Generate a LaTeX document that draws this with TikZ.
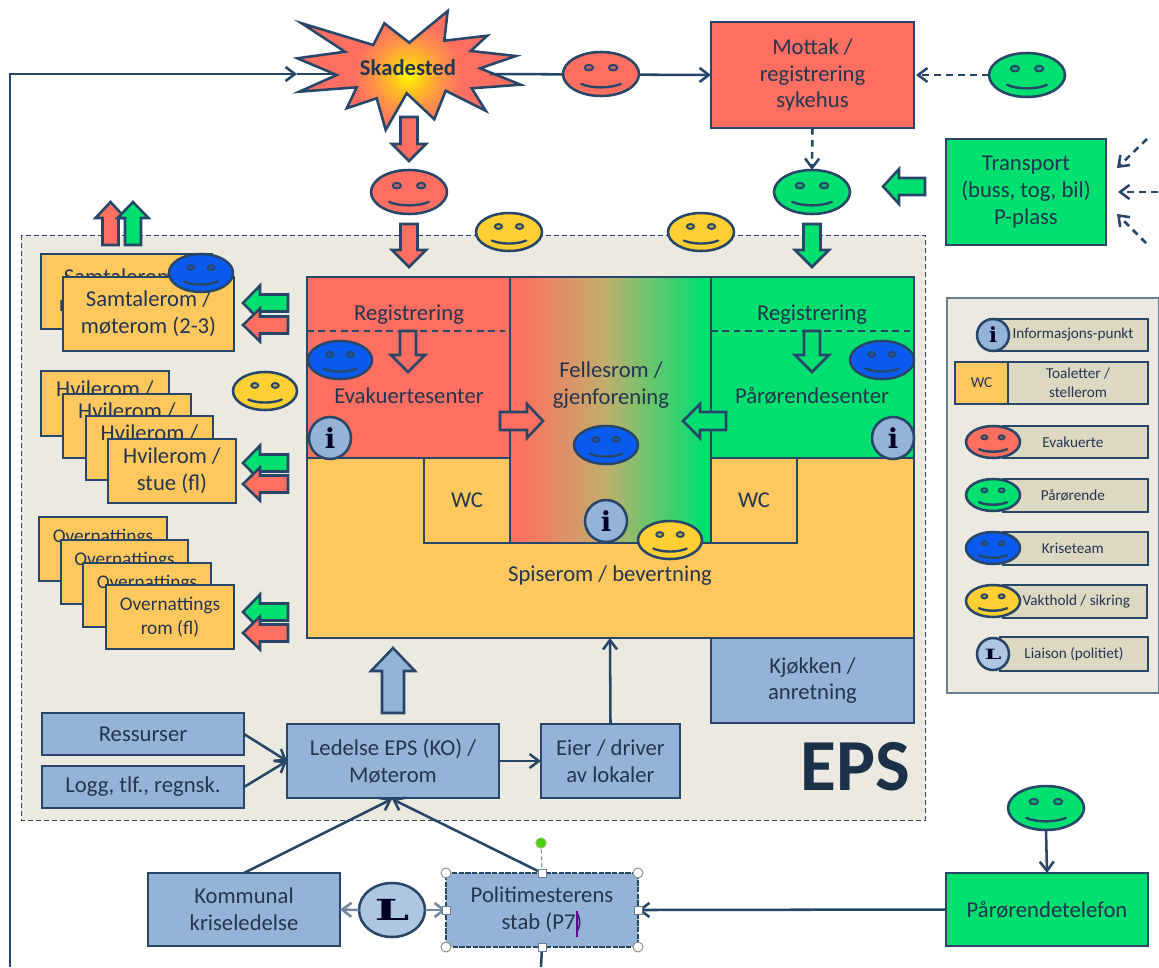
\documentclass[tikz,border=0pt]{standalone}
\usepackage{fontspec}
\setmainfont{Carlito}
\newfontfamily\slabfont{DejaVu Serif}
\usetikzlibrary{arrows.meta,shapes.geometric}
\definecolor{ln}{HTML}{274668}
\definecolor{txt}{HTML}{243550}
\definecolor{pan}{HTML}{ECEAE0}
\definecolor{bar}{HTML}{DDD8C2}
\definecolor{cred}{HTML}{FF6F61}
\definecolor{cgreen}{HTML}{00E070}
\definecolor{corange}{HTML}{FFC85F}
\definecolor{cblue}{HTML}{95B3D7}
\definecolor{cbright}{HTML}{0A5CF0}
\definecolor{cyellow}{HTML}{FFCF33}
\definecolor{cmid}{HTML}{C0AE6C}
\definecolor{burstb}{HTML}{FFC020}
\definecolor{burstc}{HTML}{FF9448}
\pgfdeclarehorizontalshading{fellesshade}{100bp}{color(0bp)=(cred); color(27bp)=(cred); color(49bp)=(cmid); color(73bp)=(cgreen); color(100bp)=(cgreen)}
\pgfdeclareradialshading{burstshade}{\pgfpoint{0bp}{0bp}}{color(0bp)=(yellow); color(8bp)=(burstb); color(16bp)=(burstc); color(25bp)=(cred); color(50bp)=(cred)}
\tikzset{
 x=0.75pt,y=-0.75pt,
 lw/.style={line width=1.9pt,draw=ln},
 roombox/.style={lw,rectangle,inner sep=0pt,outer sep=0pt,align=center,text=txt,font=\fontsize{17}{20}\selectfont},
 smallbox/.style={roombox,font=\fontsize{14.5}{18}\selectfont},
 legbar/.style={roombox,line width=1.7pt,font=\fontsize{11.4}{14}\selectfont},
 label/.style={text=txt,align=center,inner sep=0pt,font=\fontsize{17}{20}\selectfont},
 conn/.style={lw,-{Straight Barb[length=7pt,width=10.5pt]}},
 connlight/.style={line width=1.9pt,draw=ln!65!white,-{Straight Barb[length=7pt,width=10.5pt]}},
 dconn/.style={conn,dash pattern=on 5pt off 4pt},
 plain/.style={lw},
 handlec/.style={circle,draw=black!45,fill=white,line width=.7pt,inner sep=0pt,minimum size=7.5pt},
 handles/.style={rectangle,draw=ln!70!white,fill=white,line width=.7pt,inner sep=0pt,minimum size=6pt},
}
% name x1 y1 x2 y2 fill style text
\newcommand{\rbox}[8]{%
 \pgfmathsetmacro\rcx{(#2+#4)/2}\pgfmathsetmacro\rcy{(#3+#5)/2}%
 \pgfmathsetmacro\rw{(#4-#2)*0.75}\pgfmathsetmacro\rh{(#5-#3)*0.75}%
 \node[#7,fill=#6,minimum width=\rw pt,minimum height=\rh pt] (#1) at (\rcx,\rcy) {#8};}
% name x y rx ry color
\newcommand{\smiley}[6]{%
 \pgfmathsetmacro\sw{2*#4*0.75}\pgfmathsetmacro\sh{2*#5*0.75}%
 \node[ellipse,lw,fill=#6,inner sep=0pt,outer sep=0pt,minimum width=\sw pt,minimum height=\sh pt] (#1) at (#2,#3) {};
 \begin{scope}[shift={(#2,#3)},xscale=#4,yscale=#5]
  \draw[line width=1.4pt,draw=ln,fill=#6!70!ln] (-.32,-.29) ellipse [x radius=.11,y radius=.13];
  \draw[line width=1.4pt,draw=ln,fill=#6!70!ln] (.32,-.29) ellipse [x radius=.11,y radius=.13];
  \draw[line width=1.8pt,draw=ln,line cap=round] (-.52,.45) .. controls (-.25,.66) and (.25,.66) .. (.52,.45);
 \end{scope}}
% tip x, tip y, rotation, length, head length, half shaft, half head, fill
\newcommand{\blockarrow}[8]{%
 \begin{scope}[shift={(#1,#2)},rotate=#3]
  \draw[lw,fill=#8,line join=miter] (0,0) -- (-#5,-#7) -- (-#5,-#6) -- (-#4,-#6) -- (-#4,#6) -- (-#5,#6) -- (-#5,#7) -- cycle;
 \end{scope}}
% name x y r
\newcommand{\infocirc}[4]{%
 \pgfmathsetmacro\sw{2*#4*0.75}%
 \node[circle,lw,fill=cblue,text=black!85!blue,inner sep=0pt,outer sep=0pt,minimum size=\sw pt,font=\slabfont\bfseries\fontsize{\fpeval{#4*0.98}}{10}\selectfont] (#1) at (#2,#3) {i};}
\newcommand{\lcirc}[5]{%
 \pgfmathsetmacro\sw{2*#4*0.75}\pgfmathsetmacro\sh{2*#5*0.75}%
 \node[ellipse,lw,fill=cblue!75!white,text=black!85!blue,inner sep=0pt,outer sep=0pt,minimum width=\sw pt,minimum height=\sh pt,font=\slabfont\bfseries\fontsize{\fpeval{#4*0.66}}{10}\selectfont] (#1) at (#2,#3) {\scalebox{1.7}[1]{L}};}
\begin{document}
\begin{tikzpicture}
\useasboundingbox (0,0) rectangle (1159,967);
% EPS panel
\draw[fill=pan,draw=ln,line width=.75pt,dash pattern=on 3.5pt off 2.5pt] (21,235) rectangle (925,820);
% Left return line
\coordinate (retstart) at (10,967);
\coordinate (skin) at (297,74);
\coordinate (skin2) at (336,74);
\draw[conn] (retstart) |- (skin);
\draw[plain] (skin) -- (skin2);
% Starburst
\path[save path=\starpath] (301.7,23.3) -- (373.3,45) -- (384.3,23.3) -- (409.3,42.7) -- (447.7,11) -- (444.3,40.7) -- (487.3,35.7) -- (470.7,51) -- (516,56) -- (480,68.3) -- (520.7,84.7) -- (471.7,88.3) -- (485.7,110.7) -- (445.7,90.7) -- (434.3,119.3) -- (406.7,93.3) -- (385.7,130) -- (376.7,98.3) -- (346.7,108.3) -- (356.7,87.3) -- (299.3,91.7) -- (336.7,75) -- (297.3,58.3) -- (345,51.7) -- cycle;
\fill[cred,use path=\starpath];
\begin{scope}
 \clip[use path=\starpath];
 \shade[shading=burstshade] (408,75) circle [radius=54];
\end{scope}
\draw[lw,line join=miter,use path=\starpath];
\node[text=txt,inner sep=0pt,font=\bfseries\fontsize{17}{20}\selectfont] (skade) at (408,68) {Skadested};
% Connector Skadested - mottak
\coordinate (skout) at (490,74);
\rbox{mottak}{711}{22}{914}{128}{cred}{roombox}{Mottak /\\registrering\\sykehus}
\draw[conn] (skout) -- (mottak.west);
\smiley{smred}{601}{74}{38}{22}{cred}
% Mottak side
\smiley{smgr}{1027}{75}{38}{22}{cgreen}
\draw[dconn] (smgr.west) -- ([xshift=1.5pt]mottak.east);
\rbox{transport}{946}{139}{1106}{245}{cgreen}{roombox}{Transport\\(buss, tog, bil)\\P-plass}
\coordinate (tr1) at (1158,192); \coordinate (tr1e) at (1118,192);
\coordinate (tr2) at (1147,139); \coordinate (tr2e) at (1117,168);
\coordinate (tr3) at (1146,243); \coordinate (tr3e) at (1117,214);
\draw[dconn] (tr1) -- (tr1e);
\draw[dconn] (tr2) -- (tr2e);
\draw[dconn] (tr3) -- (tr3e);
\blockarrow{883}{186.5}{180}{42}{16}{8.5}{17.5}{cgreen}
\smiley{smgr2}{812}{192}{38}{22}{cgreen}
\draw[dconn] (mottak.south) -- (smgr2.north);
\blockarrow{812}{267}{-90}{43}{17}{8.5}{17}{cgreen}
% Red chain
\blockarrow{409}{161}{-90}{44}{17}{8.5}{17}{cred}
\smiley{smred2}{409}{192}{38}{22}{cred}
\blockarrow{409}{267}{-90}{43}{17}{8.5}{17}{cred}
\smiley{smyel1}{509}{232}{33}{19}{cyellow}
\smiley{smyel2}{701}{232}{33}{19}{cyellow}
% Up arrows
\blockarrow{110.5}{202}{90}{43}{16}{8}{15}{cred}
\blockarrow{133}{202}{90}{43}{16}{8}{15.5}{cgreen}
% Samtalerom
\rbox{sam1}{41}{254}{212}{329}{corange}{roombox}{Samtalerom /\\møterom (2-3)}
\rbox{sam2}{63}{277}{234}{351}{corange}{roombox}{Samtalerom /\\møterom (2-3)}
\smiley{smbl1}{201}{273}{32}{19}{cbright}
\blockarrow{243}{303}{0}{-45}{-17}{8.5}{17.5}{cgreen}
\blockarrow{243}{325}{0}{-45}{-17}{8.5}{16.5}{cred}
% Hvilerom
\rbox{hv1}{41}{371}{169}{436}{corange}{roombox}{Hvilerom /\\stue (fl)}
\rbox{hv2}{63}{394}{191}{458}{corange}{roombox}{Hvilerom /\\stue (fl)}
\rbox{hv3}{86}{416}{213}{480}{corange}{roombox}{Hvilerom /\\stue (fl)}
\rbox{hv4}{108}{439}{236}{503}{corange}{roombox}{Hvilerom /\\stue (fl)}
\smiley{smyel3}{265}{391}{32}{19}{cyellow}
\blockarrow{243}{463}{0}{-45}{-17}{8.5}{17.5}{cgreen}
\blockarrow{243}{484}{0}{-45}{-17}{8.5}{16.5}{cred}
% Overnattings
\rbox{ov1}{39}{517}{167}{581}{corange}{smallbox}{Overnattings\\rom (fl)}
\rbox{ov2}{61}{540}{188}{604}{corange}{smallbox}{Overnattings\\rom (fl)}
\rbox{ov3}{83}{563}{211}{627}{corange}{smallbox}{Overnattings\\rom (fl)}
\rbox{ov4}{106}{585}{234}{649}{corange}{smallbox}{Overnattings\\rom (fl)}
\blockarrow{243}{612}{0}{-45}{-17}{8.5}{17.5}{cgreen}
\blockarrow{243}{633}{0}{-45}{-17}{8.5}{16.5}{cred}
% Main block
\rbox{main}{307}{277}{914}{638}{corange}{roombox}{}
\rbox{evak}{307}{277}{510}{458}{cred}{roombox}{}
\rbox{paar}{711}{277}{914}{458}{cgreen}{roombox}{}
\shade[shading=fellesshade] (510,277) rectangle (711,543);
\rbox{wcl}{424}{458}{510}{543}{corange}{roombox}{WC}
\rbox{wcr}{711}{458}{797}{543}{corange}{roombox}{WC}
\node[lw,fill=none,minimum width=150.75pt,minimum height=199.5pt,inner sep=0pt,outer sep=0pt] (felles) at (610.5,410) {};
\coordinate (dl1) at (307,331); \coordinate (dl2) at (505,331);
\coordinate (dr1) at (711,331); \coordinate (dr2) at (910,331);
\draw[lw,line width=1.5pt,dash pattern=on 5pt off 3.5pt] (dl1) -- (dl2);
\draw[lw,line width=1.5pt,dash pattern=on 5pt off 3.5pt] (dr1) -- (dr2);
\node[label] (regl) at (409,315) {Registrering};
\node[label] (regr) at (812,315) {Registrering};
\blockarrow{408}{372}{-90}{41}{17}{8}{17}{cred}
\blockarrow{812}{372}{-90}{41}{17}{8}{17}{cgreen}
\node[label] (evtxt) at (409,396) {Evakuertesenter};
\node[label] (patxt) at (812,396) {Pårørendesenter};
\node[label] (fltxt) at (611,385) {Fellesrom /\\gjenforening};
\smiley{smbl2}{340}{360}{32}{19}{cbright}
\smiley{smbl3}{882}{360}{32}{19}{cbright}
\smiley{smbl4}{606}{445}{32}{19}{cbright}
\infocirc{infa}{330}{438}{21}
\infocirc{infb}{893}{438}{21}
\infocirc{infc}{606}{521}{21}
\smiley{smyel4}{670}{540}{32}{19}{cyellow}
\blockarrow{543}{421}{0}{43}{16}{9}{17}{cred}
\blockarrow{683}{421}{180}{43}{17}{9}{17}{cgreen}
\node[label] (spis) at (610,576) {Spiserom / bevertning};
% Lower EPS
\rbox{kjokken}{711}{638}{914}{723}{cblue}{roombox}{Kjøkken /\\anretning}
\blockarrow{393}{648}{90}{65}{23}{11}{22}{cblue}
\rbox{ressurs}{42}{713}{244}{755}{cblue}{roombox}{Ressurser}
\rbox{logg}{42}{766}{244}{808}{cblue}{roombox}{Logg, tlf., regnsk.}
\rbox{ledelse}{287}{724}{499}{798}{cblue}{roombox}{Ledelse EPS (KO) /\\Møterom}
\rbox{eier}{541}{724}{680}{798}{cblue}{roombox}{Eier / driver\\av lokaler}
\draw[conn] (ressurs.east) -- (ledelse.west);
\draw[conn] (logg.east) -- (ledelse.west);
\draw[conn] (ledelse.east) -- (eier.west);
\coordinate (eierup) at (610,638);
\draw[conn] (eier.north) -- (eierup);
\node[text=ln!70!black,inner sep=0pt,font=\bfseries\fontsize{55}{55}\selectfont] (eps) at (855,767) {EPS};
% Bottom row
\rbox{komm}{148}{873}{340}{946}{cblue}{roombox}{Kommunal\\kriseledelse}
\rbox{politi}{446}{873}{638}{947}{cblue}{roombox,dash pattern=on 4pt off 1pt}{Politimesterens\\stab (P7)}
\rbox{telefon}{946}{873}{1148}{946}{cgreen}{roombox}{Pårørendetelefon}
\smiley{smgr3}{1046}{808}{38}{22}{cgreen}
\draw[conn] (smgr3.south) -- (telefon.north);
\draw[conn] (telefon.west) -- (politi.east);
\coordinate (ledbot) at (392,799);
\draw[conn] (komm.north) -- (ledbot);
\draw[conn] (politi.north) -- (ledbot);
\lcirc{lia}{392}{910}{33}{27}
\draw[connlight] (lia.west) -- (komm.east);
\draw[connlight] (lia.east) -- (politi.west);
\coordinate (polbot) at (541,967);
\draw[plain] (politi.south) -- (polbot);
% Selection handles and caret
\coordinate (rotc) at (541,843);
\draw[draw=ln!60!white,line width=.8pt,dash pattern=on 3pt off 2pt] (rotc) -- (politi.north);
\node[circle,draw=black!30,fill=green!75!black!70!yellow,line width=.5pt,inner sep=0pt,minimum size=8pt] (roth) at (rotc) {};
\node[handlec] (h1) at (politi.north west) {};
\node[handlec] (h2) at (politi.north east) {};
\node[handlec] (h3) at (politi.south west) {};
\node[handlec] (h4) at (politi.south east) {};
\node[handles] (h5) at (politi.north) {};
\node[handles] (h6) at (politi.south) {};
\node[handles] (h7) at (politi.west) {};
\node[handles] (h8) at (politi.east) {};
\draw[line width=.9pt,draw=violet!80!blue] (577,911) -- (577,937);
% Legend
\draw[fill=pan,draw=ln!70!white,line width=1pt] (947,298) rectangle (1159,693);
\rbox{lb1}{998}{319}{1148}{351}{bar}{legbar}{Informasjons-punkt}
\infocirc{li1}{993}{335}{16}
\rbox{lb2}{1008}{362}{1148}{404}{bar}{legbar}{Toaletter /\\stellerom}
\rbox{lwc}{955}{362}{1008}{404}{corange}{legbar}{WC}
\rbox{lb3}{1003}{426}{1148}{458}{bar}{legbar}{\hspace*{-4pt}Evakuerte}
\smiley{ls3}{993}{442}{27}{16}{cred}
\rbox{lb4}{1003}{479}{1148}{512}{bar}{legbar}{\hspace*{-4pt}Pårørende}
\smiley{ls4}{993}{495}{27}{16}{cgreen}
\rbox{lb5}{1003}{532}{1148}{565}{bar}{legbar}{\hspace*{-4pt}Kriseteam}
\smiley{ls5}{993}{548}{27}{16}{cbright}
\rbox{lb6}{1003}{585}{1147}{618}{bar}{legbar}{\hspace*{2pt}Vakthold / sikring}
\smiley{ls6}{993}{601}{27}{16}{cyellow}
\rbox{lb7}{1000}{637}{1148}{671}{bar}{legbar}{Liaison (politiet)}
\lcirc{li2}{993}{654}{16}{16}
\end{tikzpicture}
\end{document}
